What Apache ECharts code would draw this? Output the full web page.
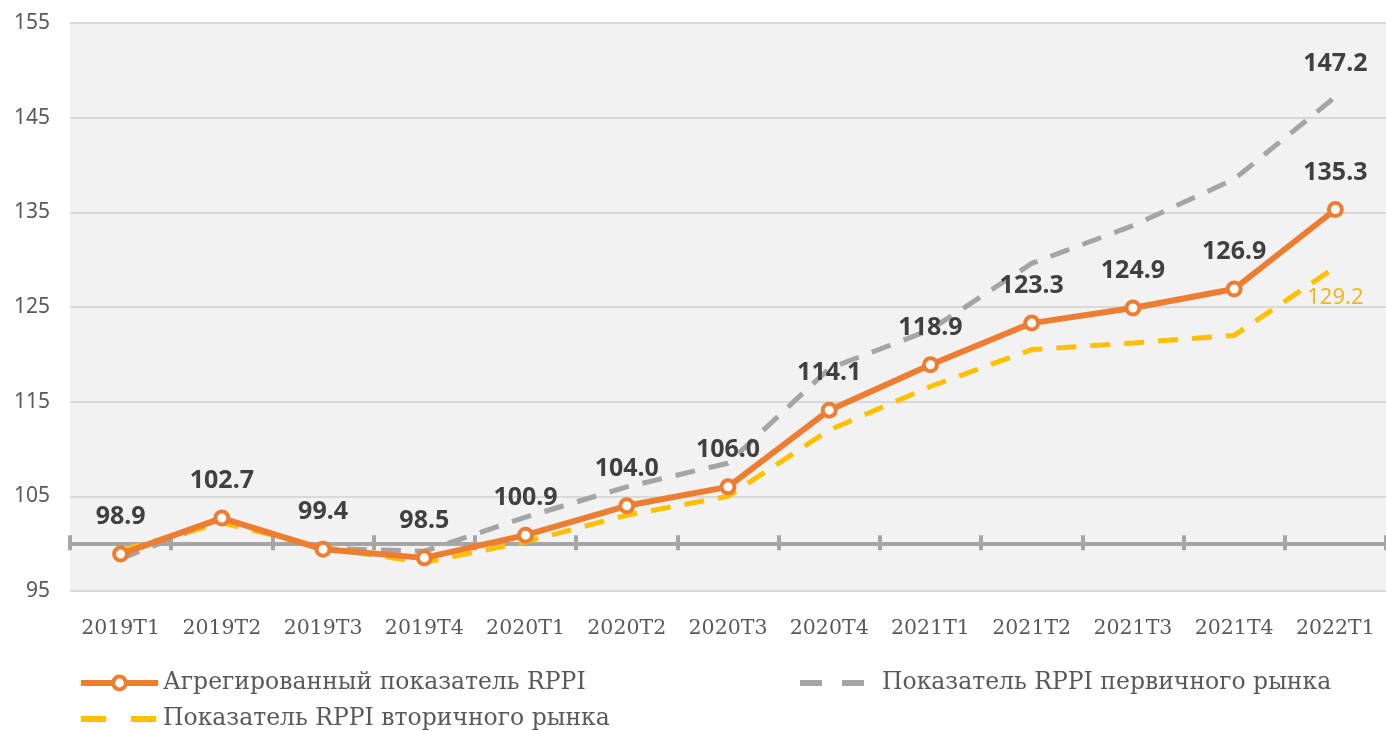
<!DOCTYPE html>
<html>
<head>
<meta charset="utf-8">
<script src="https://cdn.jsdelivr.net/npm/echarts@6/dist/echarts.min.js"></script>
<style>
  html, body { margin: 0; padding: 0; background: #fff; }
  #chart { width: 1386px; height: 731px; }
</style>
</head>
<body>
<div id="chart"></div>
<script>
const categories = ['2019T1', '2019T2', '2019T3', '2019T4', '2020T1', '2020T2', '2020T3',
  '2020T4', '2021T1', '2021T2', '2021T3', '2021T4', '2022T1']
const aggregate = [98.9, 102.7, 99.4, 98.5, 100.9, 104.0, 106.0, 114.1, 118.9, 123.3, 124.9, 126.9, 135.3]
const primary = [98.4, 102.6, 99.5, 99.2, 102.8, 106.0, 108.5, 118.5, 122.6, 129.6, 133.6, 138.5, 147.2]
const secondary = [99.3, 102.2, 99.6, 98.0, 100.2, 103.0, 105.0, 112.0, 116.6, 120.5, 121.2, 122.0, 129.2]
const yTicks = { min: 95, max: 155, step: 10 }
const baseline = 100

const names = {
  agg: 'Агрегированный показатель RPPI',
  prim: 'Показатель RPPI первичного рынка',
  sec: 'Показатель RPPI вторичного рынка'
}

const chart = echarts.init(document.getElementById('chart'))

// plot area in pixels
const gTop = 23, gBottom = 140, gLeft = 70, gRight = -7
const plotH = 731 - gTop - gBottom
const baseY = gTop + plotH * (yTicks.max - baseline) / (yTicks.max - yTicks.min)

const labelFont = { fontFamily: 'Noto Sans', fontWeight: 'bold', fontSize: 25, color: '#404040' }
const legendText = { fontFamily: 'DejaVu Serif', fontSize: 23.5, color: '#595959' }

// show a label only on the last point of a dashed series
function lastOnly(arr, label) {
  return arr.map((v, i) => i === arr.length - 1
    ? { value: v, symbol: 'circle', symbolSize: 1, itemStyle: { color: 'rgba(0,0,0,0)' }, label: label }
    : v)
}

const option = {
  animation: false,
  grid: [
    { left: gLeft, right: gRight, top: gTop, bottom: gBottom, show: true, backgroundColor: '#F2F2F2', borderWidth: 0 },
    { left: gLeft, right: gRight, top: baseY - 0.5, height: 1, show: false }
  ],
  xAxis: [
    {
      type: 'category', data: categories, gridIndex: 0, boundaryGap: true,
      axisLine: { show: false }, axisTick: { show: false },
      axisLabel: { interval: 0, margin: 27, fontFamily: 'DejaVu Serif', fontSize: 20.5, color: '#595959' }
    },
    {
      type: 'category', data: categories, gridIndex: 1, position: 'bottom', boundaryGap: true,
      axisLine: { show: true, lineStyle: { color: '#A6A6A6', width: 4 } },
      axisTick: { show: true, length: 6, lineStyle: { color: '#A6A6A6', width: 4 } },
      axisLabel: { show: false }
    },
    {
      type: 'category', data: categories, gridIndex: 1, position: 'top', boundaryGap: true,
      axisLine: { show: false },
      axisTick: { show: true, length: 8, lineStyle: { color: '#A6A6A6', width: 4 } },
      axisLabel: { show: false }
    }
  ],
  yAxis: [
    {
      type: 'value', gridIndex: 0, min: yTicks.min, max: yTicks.max, interval: yTicks.step,
      axisLine: { show: false }, axisTick: { show: false },
      splitLine: { lineStyle: { color: '#D9D9D9', width: 2 } },
      axisLabel: { margin: 20, fontFamily: 'Noto Sans', fontSize: 21, color: '#595959' }
    },
    { type: 'value', gridIndex: 1, show: false }
  ],
  legend: [
    {
      orient: 'vertical', left: 78, top: 671, height: 100, padding: 0,
      itemWidth: 77, itemHeight: 16, itemGap: 12,
      textStyle: legendText,
      data: [
        { name: names.agg, lineStyle: { width: 6 }, itemStyle: { borderWidth: 4 } },
        { name: names.sec, lineStyle: { width: 6, type: [25, 25] }, itemStyle: { opacity: 0 } }
      ]
    },
    {
      orient: 'vertical', left: 797, top: 671, height: 100, padding: 0,
      itemWidth: 77, itemHeight: 16,
      textStyle: legendText,
      data: [{ name: names.prim, lineStyle: { width: 6, type: [22, 20] }, itemStyle: { opacity: 0 } }]
    }
  ],
  series: [
    {
      name: names.prim, type: 'line', data: lastOnly(primary, { show: true, position: 'top', distance: 20, ...labelFont }),
      symbol: 'none', color: '#A5A5A5',
      lineStyle: { color: '#A5A5A5', width: 5, type: [20, 14] },
      label: { show: false }, z: 2
    },
    {
      name: names.sec, type: 'line',
      data: lastOnly(secondary, { show: true, position: 'bottom', distance: 19,
        fontFamily: 'Noto Sans', fontSize: 22, color: '#EDB71B' }),
      symbol: 'none', color: '#FFC000',
      lineStyle: { color: '#FFC000', width: 5, type: [20, 14] },
      label: { show: false }, z: 3
    },
    {
      name: names.agg, type: 'line', data: aggregate,
      symbol: 'circle', symbolSize: 13,
      itemStyle: { color: '#fff', borderColor: '#ED7D31', borderWidth: 4 },
      lineStyle: { color: '#ED7D31', width: 6 },
      label: { show: true, position: 'top', distance: 16, formatter: p => p.value.toFixed(1), ...labelFont },
      z: 4
    }
  ]
}

chart.setOption(option)
window.addEventListener('resize', () => chart.resize())
</script>
</body>
</html>
